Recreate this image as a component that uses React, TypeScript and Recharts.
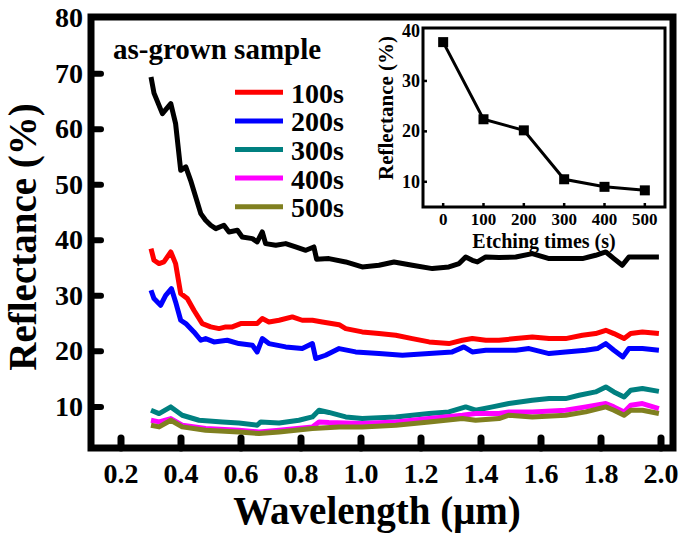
import React from 'react';
import { LineChart, Line, XAxis, YAxis, ReferenceArea, Customized } from 'recharts';

type Pt = [number, number];

// wavelength (um), reflectance (%)
const asGrown: Pt[] = [
  [0.3, 69.4], [0.31, 66.5], [0.338, 62.8], [0.366, 64.6], [0.382, 61.0], [0.399, 52.6], [0.416, 53.2],
  [0.432, 50.8], [0.466, 44.8], [0.482, 43.6], [0.499, 42.7], [0.516, 42.1], [0.543, 42.7], [0.56, 41.5],
  [0.588, 41.8], [0.604, 40.6], [0.638, 40.3], [0.654, 39.7], [0.671, 41.5], [0.682, 39.4], [0.716, 39.1],
  [0.749, 39.4], [0.782, 38.8], [0.816, 38.2], [0.843, 38.8], [0.852, 36.6], [0.893, 36.7], [0.949, 36.1],
  [1.004, 35.2], [1.06, 35.5], [1.11, 36.1], [1.171, 35.5], [1.238, 34.9], [1.293, 35.2], [1.327, 35.8],
  [1.349, 37.0], [1.371, 36.4], [1.388, 36.1], [1.416, 37.0], [1.46, 36.9], [1.516, 37.0], [1.571, 37.6],
  [1.627, 36.7], [1.682, 36.7], [1.738, 36.7], [1.782, 37.3], [1.816, 37.9], [1.843, 36.7], [1.871, 35.5],
  [1.893, 37.0], [1.927, 37.0], [1.993, 37.0],
];

const s100: Pt[] = [
  [0.3, 38.5], [0.31, 36.4], [0.327, 35.8], [0.343, 36.1], [0.366, 37.9], [0.382, 35.8], [0.399, 30.4],
  [0.421, 29.5], [0.443, 27.4], [0.471, 25.0], [0.499, 24.4], [0.527, 24.1], [0.549, 24.4], [0.571, 24.4],
  [0.599, 25.0], [0.627, 25.0], [0.654, 25.0], [0.671, 25.9], [0.693, 25.3], [0.727, 25.6], [0.771, 26.2],
  [0.804, 25.6], [0.838, 25.6], [0.871, 25.3], [0.927, 24.8], [0.949, 24.1], [1.004, 23.5], [1.06, 23.2],
  [1.116, 22.9], [1.171, 22.3], [1.227, 21.7], [1.293, 21.4], [1.338, 22.0], [1.371, 22.3], [1.416, 22.0],
  [1.46, 22.0], [1.516, 22.3], [1.571, 22.6], [1.627, 22.3], [1.682, 22.3], [1.738, 22.9], [1.782, 23.2],
  [1.816, 23.8], [1.843, 23.2], [1.877, 22.3], [1.899, 23.2], [1.938, 23.5], [1.993, 23.2],
];

const s200: Pt[] = [
  [0.3, 31.0], [0.31, 29.5], [0.332, 28.3], [0.349, 30.1], [0.368, 31.3], [0.382, 28.9], [0.399, 25.6],
  [0.416, 25.0], [0.443, 23.5], [0.466, 22.0], [0.482, 22.3], [0.51, 21.7], [0.554, 22.0], [0.593, 21.4],
  [0.638, 21.1], [0.654, 19.9], [0.671, 22.3], [0.693, 21.4], [0.749, 20.8], [0.804, 20.5], [0.838, 21.4],
  [0.849, 18.7], [0.882, 19.3], [0.927, 20.5], [0.982, 19.9], [1.06, 19.6], [1.138, 19.3], [1.227, 19.6],
  [1.304, 19.9], [1.343, 20.8], [1.371, 19.9], [1.416, 20.2], [1.46, 20.2], [1.516, 20.2], [1.56, 20.5],
  [1.627, 19.6], [1.682, 19.9], [1.749, 20.2], [1.788, 20.5], [1.816, 21.4], [1.843, 20.2], [1.873, 19.0],
  [1.893, 20.5], [1.938, 20.5], [1.993, 20.2],
];

const s300: Pt[] = [
  [0.3, 9.4], [0.327, 8.8], [0.366, 10.0], [0.404, 8.5], [0.46, 7.6], [0.538, 7.3], [0.593, 7.1],
  [0.654, 6.7], [0.666, 7.3], [0.727, 7.1], [0.793, 7.6], [0.838, 8.2], [0.86, 9.4], [0.893, 9.0],
  [0.949, 8.2], [1.004, 7.9], [1.116, 8.2], [1.227, 8.8], [1.293, 9.1], [1.349, 10.0], [1.382, 9.4],
  [1.438, 10.0], [1.493, 10.6], [1.571, 11.2], [1.627, 11.5], [1.682, 11.5], [1.727, 12.1], [1.782, 12.7],
  [1.816, 13.6], [1.843, 12.7], [1.877, 11.8], [1.899, 13.0], [1.938, 13.3], [1.993, 12.8],
];

const s400: Pt[] = [
  [0.3, 7.6], [0.327, 7.3], [0.366, 7.9], [0.404, 6.7], [0.482, 6.1], [0.593, 5.8], [0.66, 5.5],
  [0.727, 5.8], [0.838, 6.4], [0.86, 7.3], [0.893, 7.2], [1.004, 7.0], [1.116, 7.3], [1.227, 7.9],
  [1.338, 8.5], [1.382, 8.8], [1.46, 8.8], [1.493, 9.1], [1.571, 9.1], [1.682, 9.4], [1.749, 10.0],
  [1.816, 10.6], [1.843, 10.0], [1.877, 9.1], [1.899, 10.3], [1.938, 10.6], [1.993, 9.7],
];

const s500: Pt[] = [
  [0.3, 6.7], [0.327, 6.4], [0.366, 7.6], [0.404, 6.4], [0.482, 5.8], [0.593, 5.5], [0.66, 5.2],
  [0.727, 5.5], [0.838, 6.1], [0.927, 6.4], [1.004, 6.4], [1.116, 6.7], [1.227, 7.3], [1.338, 7.9],
  [1.382, 7.6], [1.46, 7.9], [1.493, 8.5], [1.571, 8.2], [1.682, 8.5], [1.749, 9.1], [1.816, 10.0],
  [1.843, 9.4], [1.877, 8.5], [1.899, 9.4], [1.938, 9.4], [1.993, 8.8],
];

const wavelengthTicks = [0.2, 0.4, 0.6, 0.8, 1.0, 1.2, 1.4, 1.6, 1.8, 2.0];
const reflectanceTicks = [10, 20, 30, 40, 50, 60, 70, 80];

// inset
const etchTimes = [0, 100, 200, 300, 400, 500];
const etchReflectance = [37.7, 22.4, 20.2, 10.5, 9.0, 8.3];
const insetYTicks = [10, 20, 30, 40];

const series = [
  { name: 'as-grown sample', color: '#000000', pts: asGrown },
  { name: '100s', color: '#ff0000', pts: s100 },
  { name: '200s', color: '#0000ff', pts: s200 },
  { name: '300s', color: '#008080', pts: s300 },
  { name: '400s', color: '#ff00ff', pts: s400 },
  { name: '500s', color: '#808020', pts: s500 },
];

const FONT = '"Liberation Serif", "Times New Roman", serif';
const W = 685;
const H = 537;
const X_DOM: [number, number] = [0.1, 2.04];
const Y_DOM: [number, number] = [2.6, 80.2];
const PL = 91, PB = 448;

const IX_DOM: [number, number] = [-50, 550];
const IY_DOM: [number, number] = [5, 40.5];
const IL = 423, IB = 207;

const MainYTick = (props: any) => {
  const { y, payload } = props;
  return (
    <g>
      {payload.value < 80 && (
        <line x1={PL} x2={PL + 10} y1={y} y2={y} stroke="#000" strokeWidth={6} strokeLinecap="round" />
      )}
      <text x={83} y={y + 9} textAnchor="end" fontFamily={FONT} fontWeight="bold" fontSize={28} fill="#000">
        {payload.value}
      </text>
    </g>
  );
};

const MainXTick = (props: any) => {
  const { x, payload } = props;
  return (
    <g>
      <line x1={x} x2={x} y1={PB} y2={PB - 10} stroke="#000" strokeWidth={7} strokeLinecap="round" />
      <text x={x} y={483} textAnchor="middle" fontFamily={FONT} fontWeight="bold" fontSize={28} fill="#000">
        {payload.value.toFixed(1)}
      </text>
    </g>
  );
};

const MainDecor = () => (
  <g fontFamily={FONT} fontWeight="bold" fill="#000">
    <text x={377} y={524} textAnchor="middle" fontSize={39}>Wavelength (μm)</text>
    <text transform="translate(36,237) rotate(-90)" textAnchor="middle" fontSize={39}>Reflectance (%)</text>
    <text x={113} y={59} fontSize={29}>as-grown sample</text>
    {series.slice(1).map((s, i) => {
      const y = 92.3 + 28.6 * i;
      return (
        <g key={s.name}>
          <line x1={235} x2={283} y1={y} y2={y} stroke={s.color} strokeWidth={5} />
          <text x={291} y={y + 10.5} fontSize={28}>{s.name}</text>
        </g>
      );
    })}
  </g>
);

const InsetYTick = (props: any) => {
  const { y, payload } = props;
  return (
    <g>
      {payload.value < 40 && <line x1={IL} x2={IL + 4} y1={y} y2={y} stroke="#000" strokeWidth={2.5} />}
      <text x={420} y={y + 6} textAnchor="end" fontFamily={FONT} fontWeight="bold" fontSize={18} fill="#000">
        {payload.value}
      </text>
    </g>
  );
};

const InsetXTick = (props: any) => {
  const { x, payload } = props;
  return (
    <g>
      <line x1={x} x2={x} y1={IB} y2={IB - 4} stroke="#000" strokeWidth={2.5} />
      <text x={x} y={225} textAnchor="middle" fontFamily={FONT} fontWeight="bold" fontSize={17} fill="#000">
        {payload.value}
      </text>
    </g>
  );
};

const InsetDecor = () => (
  <g fontFamily={FONT} fontWeight="bold" fill="#000">
    <text x={544} y={248} textAnchor="middle" fontSize={20}>Etching times (s)</text>
    <text transform="translate(393,108) rotate(-90)" textAnchor="middle" fontSize={21}>Reflectance (%)</text>
  </g>
);

const SquareDot = (props: any) => {
  const { cx, cy } = props;
  return <rect x={cx - 5} y={cy - 5} width={10} height={10} fill="#000" />;
};

export default function App() {
  const insetData = etchTimes.map((t, i) => ({ t, r: etchReflectance[i] }));
  return (
    <div style={{ position: 'absolute', left: 0, top: 0, width: W, height: H, background: '#fff' }}>
      <div style={{ position: 'absolute', left: 0, top: 0 }}>
        <LineChart width={W} height={H} margin={{ top: 17, right: W - 673, bottom: 0, left: 0 }}>
          <ReferenceArea x1={X_DOM[0]} x2={X_DOM[1]} y1={Y_DOM[0]} y2={Y_DOM[1]} fill="none" stroke="#000" strokeWidth={7} />
          <XAxis
            type="number"
            dataKey="w"
            domain={X_DOM}
            ticks={wavelengthTicks}
            height={H - PB}
            axisLine={false}
            tickLine={false}
            tick={<MainXTick />}
            allowDataOverflow
          />
          <YAxis
            type="number"
            domain={Y_DOM}
            ticks={reflectanceTicks}
            width={PL}
            axisLine={false}
            tickLine={false}
            tick={<MainYTick />}
            allowDataOverflow
          />
          {series.map((s) => (
            <Line
              key={s.name}
              data={s.pts.map(([w, r]) => ({ w, r }))}
              dataKey="r"
              type="linear"
              stroke={s.color}
              strokeWidth={5}
              strokeLinejoin="round"
              dot={false}
              activeDot={false}
              isAnimationActive={false}
            />
          ))}
          <Customized component={MainDecor} />
        </LineChart>
      </div>
      <div style={{ position: 'absolute', left: 0, top: 0 }}>
        <LineChart width={W} height={H} data={insetData} margin={{ top: 28, right: W - 665, bottom: 0, left: 0 }}>
          <ReferenceArea x1={IX_DOM[0]} x2={IX_DOM[1]} y1={IY_DOM[0]} y2={IY_DOM[1]} fill="#fff" stroke="#000" strokeWidth={3} />
          <XAxis
            type="number"
            dataKey="t"
            domain={IX_DOM}
            ticks={etchTimes}
            height={H - IB}
            axisLine={false}
            tickLine={false}
            tick={<InsetXTick />}
          />
          <YAxis
            type="number"
            domain={IY_DOM}
            ticks={insetYTicks}
            width={IL}
            axisLine={false}
            tickLine={false}
            tick={<InsetYTick />}
          />
          <Line
            dataKey="r"
            type="linear"
            stroke="#000"
            strokeWidth={3}
            dot={<SquareDot />}
            activeDot={false}
            isAnimationActive={false}
          />
          <Customized component={InsetDecor} />
        </LineChart>
      </div>
    </div>
  );
}
